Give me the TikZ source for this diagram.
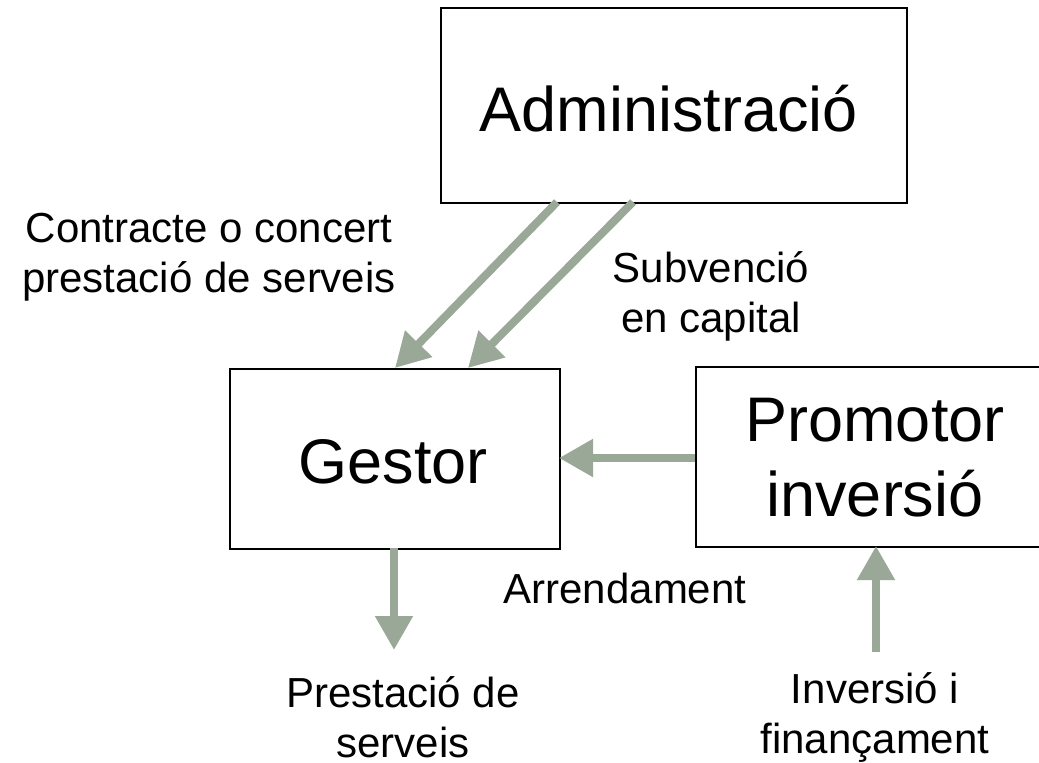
\documentclass[tikz,border=0pt]{standalone}
\usepackage{fontspec}
\setmainfont{Liberation Sans}
\usetikzlibrary{arrows.meta}
\definecolor{arrowcol}{HTML}{9AA898}
\begin{document}
\begin{tikzpicture}[x=1pt,y=-1pt,
  box/.style={draw=black,line width=1.5pt,inner sep=0pt,anchor=north west},
  big/.style={font=\fontsize{63}{75}\selectfont,inner sep=0pt},
  lbl/.style={font=\fontsize{42}{50}\selectfont,align=center,inner sep=0pt},
  fat/.style={draw=arrowcol,line width=8pt,-{Triangle[width=36pt,length=34pt]}}]
\useasboundingbox (0,0) rectangle (1039,763);
% boxes
\node[box,minimum width=466pt,minimum height=195pt] (admin) at (440,7) {};
\node[big,anchor=base] (admint) at (669,131) {Administració};
\node[box,minimum width=330pt,minimum height=180pt] (gestor) at (229,368) {};
\node[big,anchor=base] (gestort) at (393,483) {Gestor};
\node[box,minimum width=360pt,minimum height=180pt] (prom) at (695,366) {};
\node[big,align=center] (promt) at (875,458) {Promotor\\inversió};
% arrow endpoints
\coordinate (a1s) at (557,202);
\coordinate (a1e) at (395,368);
\coordinate (a2s) at (633,202);
\coordinate (a2e) at (468,368);
\coordinate (a3s) at (695,458);
\coordinate (a3e) at (559,458);
\coordinate (a4s) at (394,548);
\coordinate (a4e) at (394,650);
\coordinate (a5s) at (876,652);
\coordinate (a5e) at (876,546);
\draw[fat] (a1s) -- (a1e);
\draw[fat] (a2s) -- (a2e);
\draw[fat] (a3s) -- (a3e);
\draw[fat] (a4s) -- (a4e);
\draw[fat] (a5s) -- (a5e);
% labels
\node[lbl] (l1) at (209,257) {Contracte o concert\\prestació de serveis};
\node[lbl] (l2) at (711,296) {Subvenció\\en capital};
\node[lbl] (l3) at (625,588) {Arrendament};
\node[lbl] (l4) at (403,717) {Prestació de\\serveis};
\node[lbl] (l5) at (875,717) {Inversió i\\finançament};
\end{tikzpicture}
\end{document}
